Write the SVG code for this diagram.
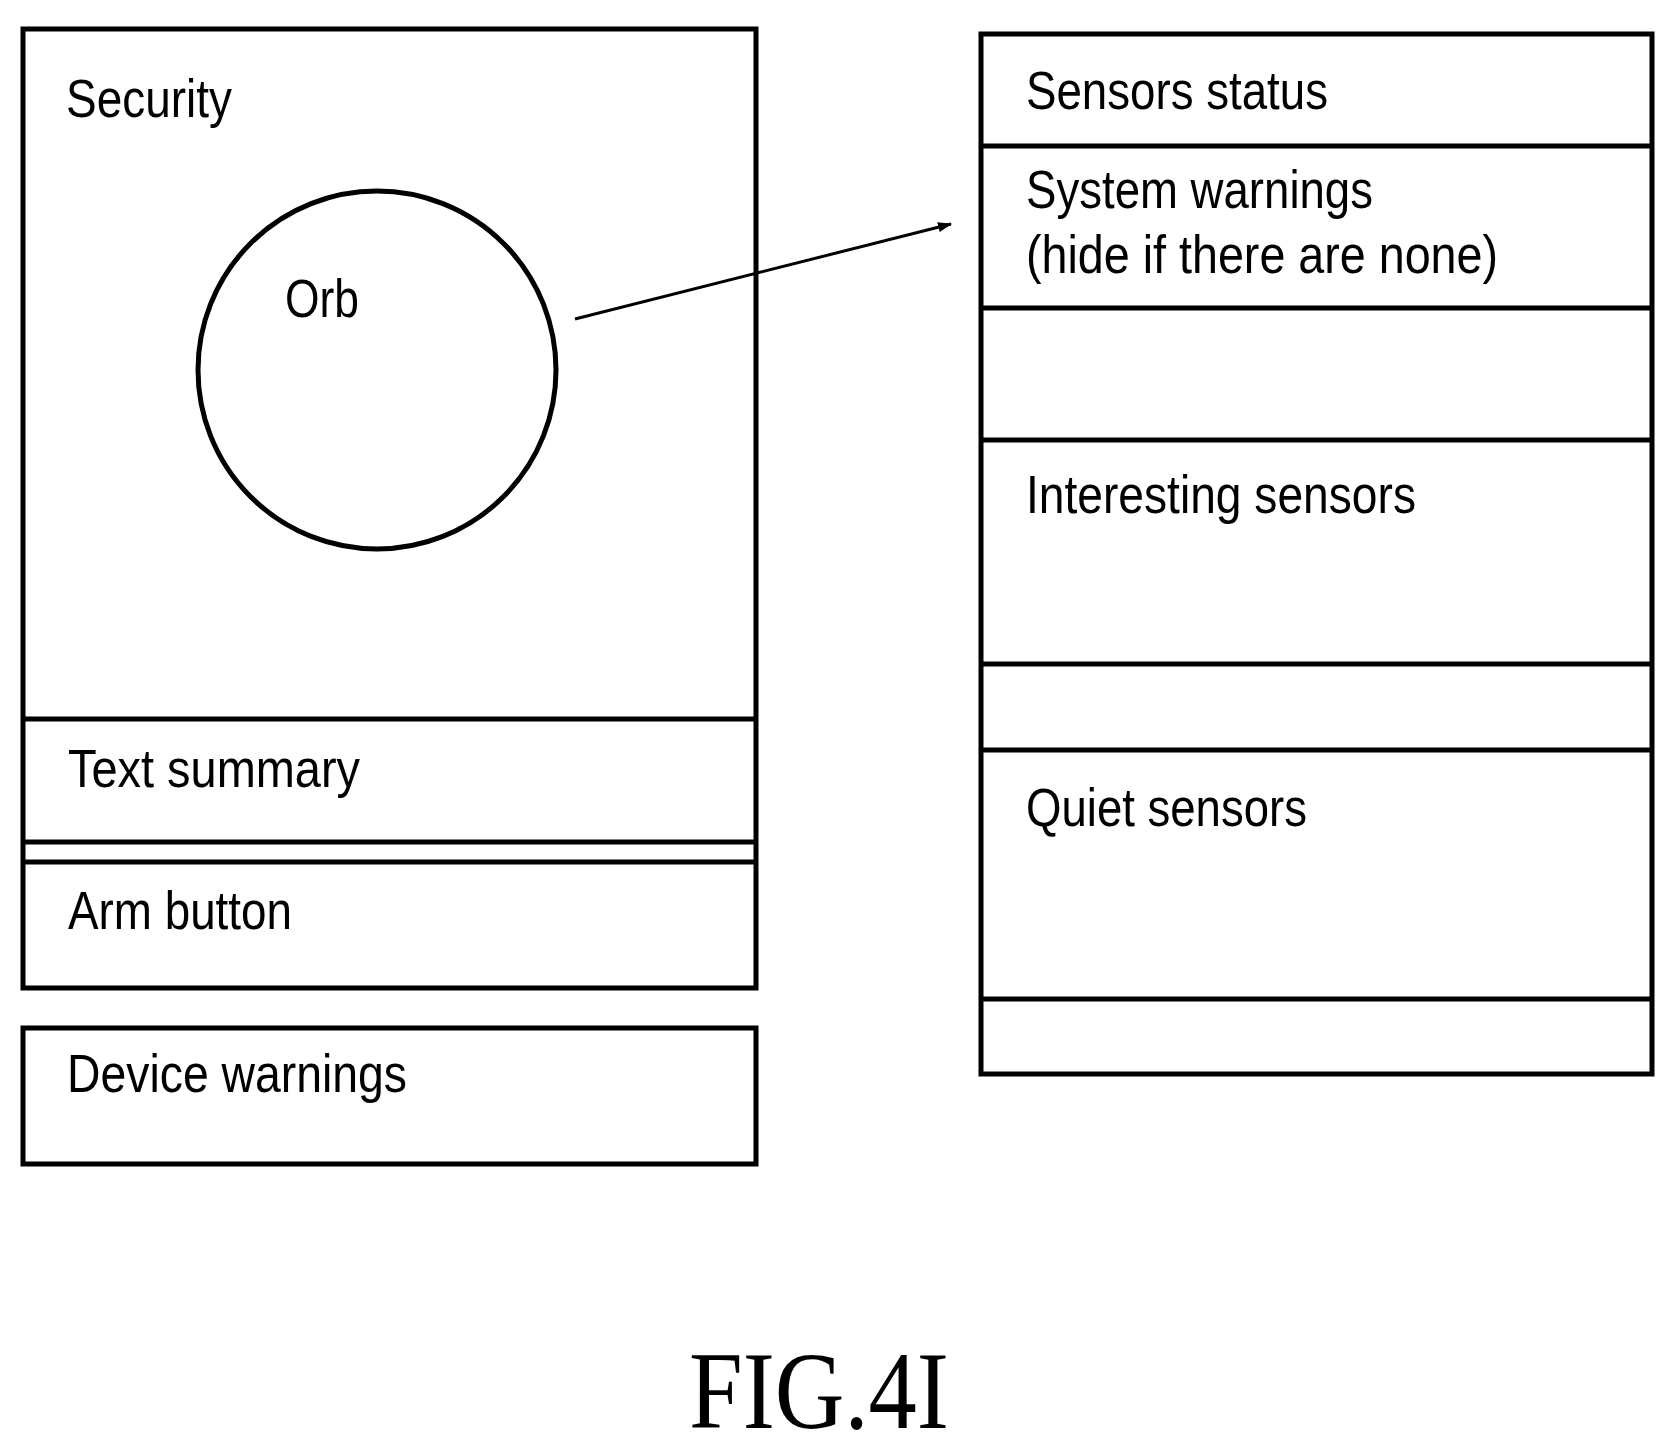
<svg xmlns="http://www.w3.org/2000/svg" width="1675" height="1453" viewBox="0 0 1675 1453">
<style>
.b{fill:none;stroke:#000;stroke-width:5}
.t{font-family:"Liberation Sans",Arial,sans-serif;font-size:54px;fill:#000}
</style>
<defs><marker id="a" markerWidth="14" markerHeight="10" refX="13" refY="5" orient="auto" markerUnits="userSpaceOnUse"><path d="M0,0 L14,5 L0,10 Z" fill="#000"/></marker></defs>
<rect width="1675" height="1453" fill="#fff"/>
<g id="security">
<rect class="b" x="23" y="29" width="733" height="959"/>
<text class="t" x="66" y="117" textLength="166" lengthAdjust="spacingAndGlyphs">Security</text>
</g>
<g id="orb">
<circle class="b" cx="377" cy="370" r="179"/>
<text class="t" x="285" y="317" textLength="74" lengthAdjust="spacingAndGlyphs">Orb</text>
</g>
<g id="text-summary">
<line class="b" x1="23" y1="719" x2="756" y2="719"/>
<line class="b" x1="23" y1="842" x2="756" y2="842"/>
<text class="t" x="68" y="787" textLength="292" lengthAdjust="spacingAndGlyphs">Text summary</text>
</g>
<g id="arm-button">
<line class="b" x1="23" y1="862" x2="756" y2="862"/>
<text class="t" x="68" y="929" textLength="224" lengthAdjust="spacingAndGlyphs">Arm button</text>
</g>
<g id="device-warnings">
<rect class="b" x="23" y="1028" width="733" height="136"/>
<text class="t" x="67" y="1092" textLength="340" lengthAdjust="spacingAndGlyphs">Device warnings</text>
</g>
<g id="sensors">
<rect class="b" x="981" y="34" width="671" height="1040"/>
<line class="b" x1="981" y1="146" x2="1652" y2="146"/>
<line class="b" x1="981" y1="308" x2="1652" y2="308"/>
<line class="b" x1="981" y1="440" x2="1652" y2="440"/>
<line class="b" x1="981" y1="664" x2="1652" y2="664"/>
<line class="b" x1="981" y1="750" x2="1652" y2="750"/>
<line class="b" x1="981" y1="999" x2="1652" y2="999"/>
<text class="t" x="1026" y="109" textLength="302" lengthAdjust="spacingAndGlyphs">Sensors status</text>
<text class="t" x="1026" y="208" textLength="347" lengthAdjust="spacingAndGlyphs">System warnings</text>
<text class="t" x="1026" y="273" textLength="472" lengthAdjust="spacingAndGlyphs">(hide if there are none)</text>
<text class="t" x="1026" y="513" textLength="390" lengthAdjust="spacingAndGlyphs">Interesting sensors</text>
<text class="t" x="1026" y="826" textLength="281" lengthAdjust="spacingAndGlyphs">Quiet sensors</text>
</g>
<g id="connectors">
<line x1="575" y1="319" x2="951" y2="224" stroke="#000" stroke-width="3" marker-end="url(#a)"/>
</g>
<text x="689" y="1428" textLength="260" lengthAdjust="spacingAndGlyphs" style="font-family:'Liberation Serif','Times New Roman',serif;font-size:110px">FIG.4I</text>
</svg>
